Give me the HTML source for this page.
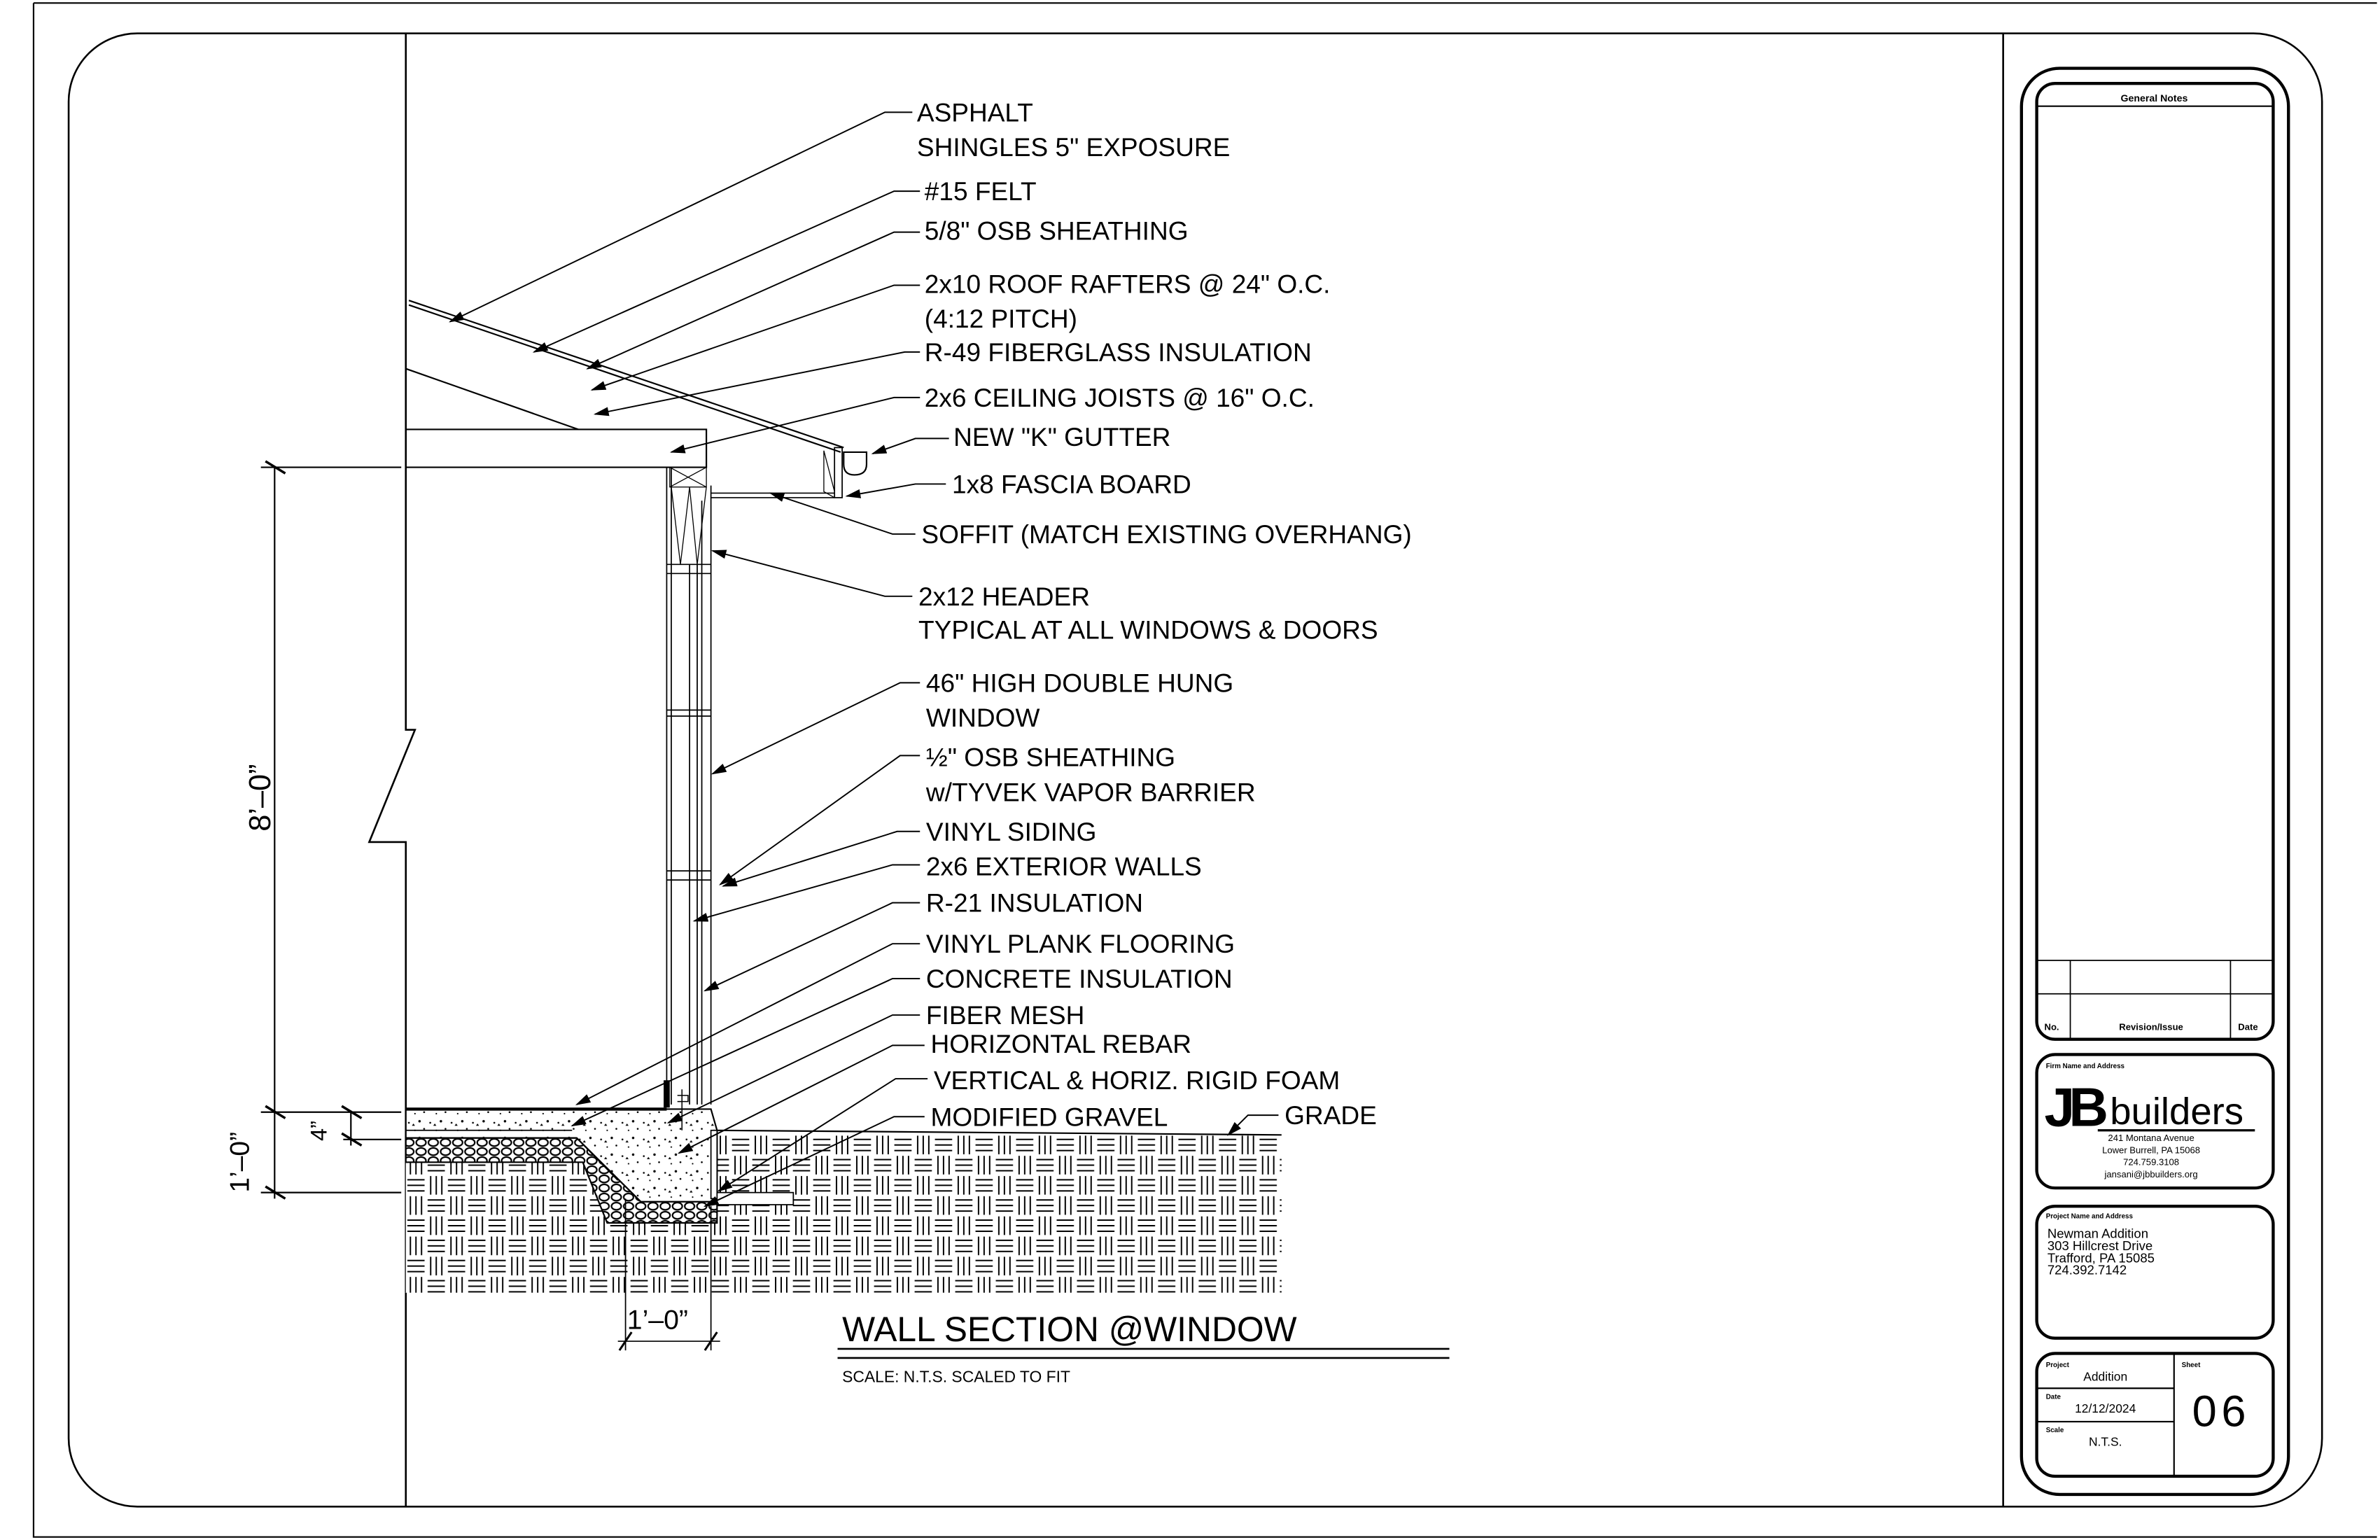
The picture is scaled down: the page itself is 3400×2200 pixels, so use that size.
<!DOCTYPE html>
<html><head><meta charset="utf-8"><style>
html,body{margin:0;padding:0;background:#fff;}
svg{display:block;}
text{font-family:"Liberation Sans",sans-serif;fill:#000;}
</style></head><body>
<svg width="3400" height="2200" viewBox="0 0 1560 1015" preserveAspectRatio="none" xmlns="http://www.w3.org/2000/svg">
<defs>
<pattern id="soil" x="266" y="748" width="26.6" height="26.6" patternUnits="userSpaceOnUse">
<rect width="26.6" height="26.6" fill="#fff"/>
<g stroke="#000" stroke-width="0.9">
<path d="M1 3H12.3M1 6.65H12.3M1 10.3H12.3"/>
<path d="M16.3 0.5V12.8M19.95 0.5V12.8M23.6 0.5V12.8"/>
<path d="M3 13.8V26.1M6.65 13.8V26.1M10.3 13.8V26.1"/>
<path d="M14.3 16.3H25.6M14.3 19.95H25.6M14.3 23.6H25.6"/>
</g>
</pattern>
<pattern id="grav" width="8" height="6" patternUnits="userSpaceOnUse">
<rect width="8" height="6" fill="#fff"/>
<ellipse cx="4" cy="3" rx="3.2" ry="2.4" fill="none" stroke="#000" stroke-width="1"/>
</pattern>
<pattern id="conc" width="14" height="11" patternUnits="userSpaceOnUse">
<rect width="14" height="11" fill="#fff"/>
<circle cx="2" cy="3" r="0.6"/><circle cx="9" cy="2" r="0.8"/><circle cx="6" cy="8" r="0.5"/><circle cx="12" cy="7" r="0.6"/><path d="M4 5l1 -1.5l1 1.5z"/>
</pattern>
<marker id="ar" markerWidth="10" markerHeight="6" refX="9" refY="3" orient="auto" markerUnits="userSpaceOnUse"><path d="M0 0L10 3L0 6z"/></marker>
</defs>
<g fill="none" stroke="#000">
<path d="M22 2H1558M22 2V1013H1558" stroke-width="1"/>
<rect x="45" y="22" width="1477" height="971" rx="45" stroke-width="1.2"/>
<line x1="1313" y1="22" x2="1313" y2="993" stroke-width="1.2"/>
<rect x="1325" y="45" width="175" height="940" rx="25" stroke-width="2"/>
<rect x="1335" y="55" width="155" height="630" rx="12" stroke-width="2"/>
<line x1="1335" y1="70" x2="1490" y2="70" stroke-width="1"/>
<path d="M1335 633H1490M1335 655H1490M1357 633V685M1462 633V685" stroke-width="0.8"/>
<rect x="1335" y="695" width="155" height="88" rx="12" stroke-width="2"/>
<rect x="1335" y="795" width="155" height="87" rx="12" stroke-width="2"/>
<rect x="1335" y="892" width="155" height="81" rx="12" stroke-width="2"/>
<path d="M1425 892V973M1335 915H1425M1335 937H1425" stroke-width="1"/>

<path d="M266 22V481H272L242 555H266V852" stroke-width="1.2"/>
<line x1="266" y1="852" x2="266" y2="993" stroke-width="1.2"/>

<line x1="268" y1="198" x2="553" y2="295" stroke-width="1"/>
<line x1="268" y1="201" x2="551" y2="298" stroke-width="1"/>
<line x1="266" y1="243" x2="379" y2="283" stroke-width="1"/>
<path d="M266 283H463V308H266" stroke-width="1"/>
<rect x="547" y="295" width="5" height="33" stroke-width="0.8"/>
<path d="M540 297V324L547 328M540 297L547 324" stroke-width="0.6"/>
<path d="M553 298H568V306Q568 313 560 313Q553 313 553 306Z" stroke-width="1"/>
<path d="M466 325H547M466 328H547" stroke-width="0.8"/>
<path d="M437 308V728M440 308V728M460 330V728M466 320V728M457 372V728M452 372V728" stroke-width="0.8"/>
<rect x="439" y="308" width="24" height="13" stroke-width="0.6"/>
<path d="M439 308L463 321M463 308L439 321M440 321L446 372L452 321L457 372L463 321" stroke-width="0.6"/>
<path d="M437 372H466M437 378H466M437 468H466M437 472H466M437 574H466M437 580H466" stroke-width="0.8"/>
<rect x="266" y="748" width="574" height="104" fill="url(#soil)" stroke="none"/>
<polygon points="266,750 378,750 420,792 470,792 470,806 398,806 382,766 266,766" fill="url(#grav)" stroke-width="1"/>
<polygon points="266,731 466,731 470,745 470,792 420,792 378,750 266,750" fill="url(#conc)" stroke-width="1"/>
<line x1="266" y1="731" x2="437" y2="731" stroke-width="2"/>
<line x1="266" y1="745" x2="375" y2="745" stroke-width="0.8"/>
<line x1="378" y1="750" x2="405" y2="778" stroke-width="0.8"/>
<rect x="466" y="745" width="4" height="45" fill="#fff" stroke-width="0.8"/>
<rect x="470" y="786" width="50" height="8" fill="#fff" stroke-width="0.8"/>
<line x1="470" y1="745" x2="840" y2="748" stroke-width="1"/>
<rect x="435" y="712" width="4" height="18" fill="#000" stroke="none"/>
<path d="M447 718V745M444 722H451V726H444" stroke-width="0.7"/>

<path d="M180 308V790M171 308H263M171 733H263M171 786H263M230 733V755M225 751H263" stroke-width="1"/>
<path d="M174 304L187 312M174 729L187 737M174 782L187 790M224 729L237 737M224 747L237 755" stroke-width="1.6"/>
<path d="M410 790V890M466 795V890M405 884H472" stroke-width="0.8"/>
<path d="M406 890L414 878M462 890L470 878" stroke-width="1.4"/>

<path d="M549 889H950M549 895H950" stroke-width="1.2"/>

<g stroke-width="0.9" marker-end="url(#ar)">
<path d="M598 74H580L295 212"/>
<path d="M603 126H586L350 232"/>
<path d="M603 153H586L385 243"/>
<path d="M603 188H586L388 257"/>
<path d="M603 232H593L390 273"/>
<path d="M603 262H586L440 298"/>
<path d="M622 289H600L572 299"/>
<path d="M620 319H600L555 327"/>
<path d="M600 352H585L505 325"/>
<path d="M598 393H580L467 363"/>
<path d="M603 450H590L467 510"/>
<path d="M603 498H590L472 583"/>
<path d="M603 548H588L474 584"/>
<path d="M603 570H585L455 607"/>
<path d="M603 595H585L462 653"/>
<path d="M603 622H585L378 728"/>
<path d="M603 645H585L375 742"/>
<path d="M603 669H585L438 740"/>
<path d="M606 689H585L445 760"/>
<path d="M608 711H587L471 785"/>
<path d="M606 736H586L462 795"/>
<path d="M838 735H818L805 748"/>
</g>
</g>

<g font-size="17">
<text x="601" y="80">ASPHALT</text>
<text x="601" y="103">SHINGLES 5" EXPOSURE</text>
<text x="606" y="132">#15 FELT</text>
<text x="606" y="158">5/8" OSB SHEATHING</text>
<text x="606" y="193">2x10 ROOF RAFTERS @ 24" O.C.</text>
<text x="606" y="216">(4:12 PITCH)</text>
<text x="606" y="238">R-49 FIBERGLASS INSULATION</text>
<text x="606" y="268">2x6 CEILING JOISTS @ 16" O.C.</text>
<text x="625" y="294">NEW "K" GUTTER</text>
<text x="624" y="325">1x8 FASCIA BOARD</text>
<text x="604" y="358">SOFFIT (MATCH EXISTING OVERHANG)</text>
<text x="602" y="399">2x12 HEADER</text>
<text x="602" y="421">TYPICAL AT ALL WINDOWS &amp; DOORS</text>
<text x="607" y="456">46" HIGH DOUBLE HUNG</text>
<text x="607" y="479">WINDOW</text>
<text x="607" y="505">½" OSB SHEATHING</text>
<text x="607" y="528">w/TYVEK VAPOR BARRIER</text>
<text x="607" y="554">VINYL  SIDING</text>
<text x="607" y="577">2x6 EXTERIOR WALLS</text>
<text x="607" y="601">R-21 INSULATION</text>
<text x="607" y="628">VINYL PLANK FLOORING</text>
<text x="607" y="651">CONCRETE INSULATION</text>
<text x="607" y="675">FIBER MESH</text>
<text x="610" y="694">HORIZONTAL REBAR</text>
<text x="612" y="718">VERTICAL &amp; HORIZ. RIGID FOAM</text>
<text x="610" y="742">MODIFIED GRAVEL</text>
<text x="842" y="741">GRADE</text>
</g>
<text x="552" y="884" font-size="23" textLength="298" lengthAdjust="spacingAndGlyphs">WALL SECTION @WINDOW</text>
<text x="552" y="911" font-size="10.5">SCALE: N.T.S. SCALED TO FIT</text>
<text transform="translate(177,548) rotate(-90)" font-size="20">8’–0”</text>
<text transform="translate(163,786) rotate(-90)" font-size="18">1’–0”</text>
<text transform="translate(214,752) rotate(-90)" font-size="15">4”</text>
<text x="411" y="876" font-size="18">1’–0”</text>

<text x="1412" y="67" font-size="6.5" text-anchor="middle" font-weight="bold">General Notes</text>
<text x="1340" y="679" font-size="6" font-weight="bold">No.</text>
<text x="1410" y="679" font-size="6" font-weight="bold" text-anchor="middle">Revision/Issue</text>
<text x="1467" y="679" font-size="6" font-weight="bold">Date</text>
<text x="1341" y="704" font-size="4.5" font-weight="bold">Firm Name and Address</text>
<text x="1340" y="742" font-size="36" font-weight="bold" letter-spacing="-4">JB</text>
<text x="1383" y="741" font-size="25">builders</text>
<line x1="1375" y1="745" x2="1478" y2="745" stroke="#000" stroke-width="1.5"/>
<g font-size="6" text-anchor="middle">
<text x="1410" y="752">241 Montana Avenue</text>
<text x="1410" y="760">Lower Burrell, PA 15068</text>
<text x="1410" y="768">724.759.3108</text>
<text x="1410" y="776">jansani@jbbuilders.org</text>
</g>
<text x="1341" y="803" font-size="4.5" font-weight="bold">Project Name and Address</text>
<g font-size="8.5">
<text x="1342" y="816">Newman  Addition</text>
<text x="1342" y="824">303  Hillcrest  Drive</text>
<text x="1342" y="832">Trafford,  PA  15085</text>
<text x="1342" y="840">724.392.7142</text>
</g>
<text x="1341" y="901" font-size="4.5" font-weight="bold">Project</text>
<text x="1380" y="910" font-size="8" text-anchor="middle">Addition</text>
<text x="1341" y="922" font-size="4.5" font-weight="bold">Date</text>
<text x="1380" y="931" font-size="8" text-anchor="middle">12/12/2024</text>
<text x="1341" y="944" font-size="4.5" font-weight="bold">Scale</text>
<text x="1380" y="953" font-size="8" text-anchor="middle">N.T.S.</text>
<text x="1430" y="901" font-size="4.5" font-weight="bold">Sheet</text>
<text x="1456" y="940" font-size="29" text-anchor="middle" letter-spacing="3">06</text>
</svg>
</body></html>
